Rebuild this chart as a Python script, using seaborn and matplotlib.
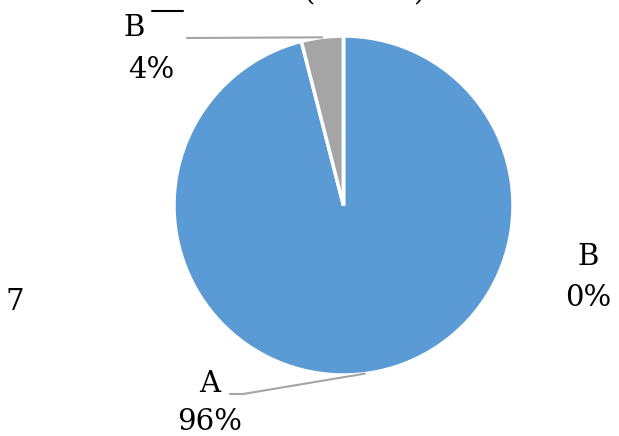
import numpy as np
import seaborn as sns
import matplotlib.pyplot as plt

# slice data
labels = ["A", "B", "B"]
shares = [96, 4, 0]
title_txt = "(n = 25)"
side_note = "7"

sns.set_theme(style="white")
plt.rcParams["font.family"] = ["DejaVu Serif"]
plt.rcParams["text.color"] = "black"

W, H = 619, 436
fig = plt.figure(figsize=(W / 100, H / 100), dpi=100)
ax = fig.add_axes([0, 0, 1, 1])

colors = ["#5B9BD5", "#A5A5A5", "#ED7D31"]
cx, cy, r = 343.5, H - 205.5, 169.5
wedges, _ = ax.pie(shares, colors=colors, startangle=90, counterclock=False,
                   center=(cx, cy), radius=r, frame=True,
                   wedgeprops=dict(edgecolor="white", linewidth=2.5))
ax.set_xlim(0, W)
ax.set_ylim(0, H)
ax.set_aspect("equal")
ax.axis("off")

def anchor(w):
    ang = np.deg2rad((w.theta1 + w.theta2) / 2)
    return cx + r * np.cos(ang), cy + r * np.sin(ang)

fs = 21
line_col = "#A5A5A5"

# A label with leader
ax_, ay_ = anchor(wedges[0])
ax.plot([ax_, 243, 230], [ay_, H - 394, H - 394], color=line_col, lw=1.5)
ax.text(210, H - 384, labels[0], ha="center", va="center", fontsize=fs)
ax.text(210, H - 422, f"{shares[0]}%", ha="center", va="center", fontsize=fs)

# B (4%) label with leader
bx_, by_ = anchor(wedges[1])
ax.plot([bx_, 187], [by_, H - 38], color=line_col, lw=1.5)
ax.plot([152, 183], [H - 11, H - 11], color="black", lw=1.5)
ax.text(134, H - 28, labels[1], ha="center", va="center", fontsize=fs)
ax.text(151, H - 70, f"{shares[1]}%", ha="center", va="center", fontsize=fs)

# B (0%) label
ax.text(588, H - 257, labels[2], ha="center", va="center", fontsize=fs)
ax.text(588, H - 298, f"{shares[2]}%", ha="center", va="center", fontsize=fs)

ax.text(15, H - 302, side_note, ha="center", va="center", fontsize=fs)
# title sits mostly above the top edge, as in the source
ax.text(365, H + 8, title_txt, ha="center", va="center", fontsize=fs)

fig.savefig("out.png", dpi=100)
